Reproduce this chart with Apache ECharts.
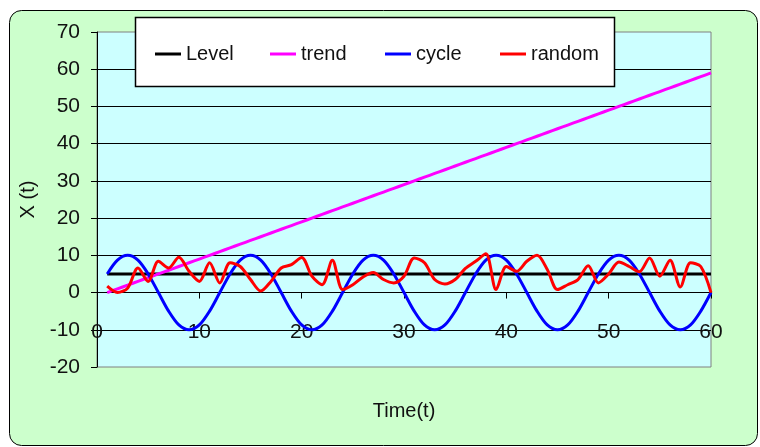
<!DOCTYPE html>
<html>
<head>
<meta charset="utf-8">
<script src="https://cdn.jsdelivr.net/npm/echarts@6/dist/echarts.min.js"></script>
<style>
html, body { margin: 0; padding: 0; background: #fff; }
#container { width: 760px; height: 447px; }
</style>
</head>
<body>
<div id="container"></div>
<script>
// 时间轴 t = 1..60
var times = [1, 2, 3, 4, 5, 6, 7, 8, 9, 10, 11, 12, 13, 14, 15, 16, 17, 18, 19, 20,
	21, 22, 23, 24, 25, 26, 27, 28, 29, 30, 31, 32, 33, 34, 35, 36, 37, 38, 39, 40,
	41, 42, 43, 44, 45, 46, 47, 48, 49, 50, 51, 52, 53, 54, 55, 56, 57, 58, 59, 60];

var level = [5, 5, 5, 5, 5, 5, 5, 5, 5, 5, 5, 5, 5, 5, 5, 5, 5, 5, 5, 5,
	5, 5, 5, 5, 5, 5, 5, 5, 5, 5, 5, 5, 5, 5, 5, 5, 5, 5, 5, 5,
	5, 5, 5, 5, 5, 5, 5, 5, 5, 5, 5, 5, 5, 5, 5, 5, 5, 5, 5, 5];

var trend = [0, 1, 2, 3, 4, 5, 6, 7, 8, 9, 10, 11, 12, 13, 14, 15, 16, 17, 18, 19,
	20, 21, 22, 23, 24, 25, 26, 27, 28, 29, 30, 31, 32, 33, 34, 35, 36, 37, 38, 39,
	40, 41, 42, 43, 44, 45, 46, 47, 48, 49, 50, 51, 52, 53, 54, 55, 56, 57, 58, 59];

var cycle = [5, 8.7, 10, 8.7, 5, 0, -5, -8.7, -10, -8.7, -5, 0,
	5, 8.7, 10, 8.7, 5, 0, -5, -8.7, -10, -8.7, -5, 0,
	5, 8.7, 10, 8.7, 5, 0, -5, -8.7, -10, -8.7, -5, 0,
	5, 8.7, 10, 8.7, 5, 0, -5, -8.7, -10, -8.7, -5, 0,
	5, 8.7, 10, 8.7, 5, 0, -5, -8.7, -10, -8.7, -5, 0];

var random = [1.7, 0, 1.2, 6.6, 3, 8.4, 6.6, 9.5, 5.7, 3, 8, 2.6, 8, 7, 3.5, 0.4, 3, 6.6, 7.5, 9.4,
	4.4, 2.1, 8.7, 0.8, 2.1, 4.2, 5.4, 3.5, 2.6, 4.4, 9.3, 8, 3.5, 2.3, 3.5, 6.5, 8.4, 10.4, 0.8, 7,
	5.7, 8.4, 10, 6.2, 0.8, 2.1, 3.5, 7.2, 2.6, 5, 8.2, 7, 5.6, 9.3, 4.4, 8.7, 1.5, 8, 7, 0];

var yTicks = [-20, -10, 0, 10, 20, 30, 40, 50, 60, 70];

var font = "'Liberation Sans', Arial, sans-serif";
var textColor = '#111';

function pairs(values) {
	return times.map(function (t, i) {
		return [t, values[i]];
	});
}

function lineSeries(name, values, color) {
	return {
		name: name,
		type: 'line',
		data: pairs(values),
		symbol: 'none',
		smooth: 0.3,
		lineStyle: { color: color, width: 3 },
		itemStyle: { color: color },
		animation: false
	};
}

var dom = document.getElementById('container');
var myChart = echarts.init(dom);

var option = {
	backgroundColor: '#fff',
	animation: false,
	textStyle: { fontFamily: font, color: textColor },
	graphic: [{
		type: 'rect',
		z: -100,
		shape: { x: 9.5, y: 10.5, width: 748, height: 435, r: 12 },
		style: { fill: '#CCFFCC', stroke: '#000', lineWidth: 1 }
	}, {
		type: 'rect',
		z: 3,
		shape: { x: 135.5, y: 17.5, width: 479, height: 69 },
		style: { fill: '#fff', stroke: '#000', lineWidth: 1.5 }
	}],
	legend: {
		left: 155,
		top: 42,
		padding: 0,
		icon: 'rect',
		itemWidth: 26,
		itemHeight: 3,
		itemGap: 0,
		z: 5,
		textStyle: { fontFamily: font, fontSize: 20, color: textColor, width: 84, lineHeight: 24 },
		data: ['Level', 'trend', 'cycle', 'random']
	},
	grid: {
		left: 97,
		right: 49,
		top: 32,
		bottom: 80,
		outerBoundsMode: 'none',
		show: true,
		backgroundColor: '#CCFFFF',
		borderColor: '#808080',
		borderWidth: 1
	},
	xAxis: {
		type: 'value',
		min: 0,
		max: 60,
		interval: 10,
		name: 'Time(t)',
		nameLocation: 'middle',
		nameGap: 34,
		nameTextStyle: { fontFamily: font, fontSize: 20, color: textColor },
		axisLine: { onZero: true, lineStyle: { color: '#000', width: 1 } },
		axisTick: { show: true, length: 6, lineStyle: { color: '#000' } },
		axisLabel: { margin: -45, fontFamily: font, fontSize: 21, color: textColor },
		splitLine: { show: false }
	},
	yAxis: {
		type: 'value',
		min: yTicks[0],
		max: yTicks[yTicks.length - 1],
		interval: 10,
		name: 'X (t)',
		nameLocation: 'middle',
		nameGap: 48,
		nameTextStyle: { fontFamily: font, fontSize: 20, color: textColor },
		axisLine: { show: true, onZero: false, lineStyle: { color: '#000', width: 1 } },
		axisTick: { show: true, length: 6, lineStyle: { color: '#000' } },
		axisLabel: { margin: 17, fontFamily: font, fontSize: 21, color: textColor },
		splitLine: { show: true, showMinLine: false, showMaxLine: false, lineStyle: { color: '#000', width: 1 } }
	},
	series: [
		lineSeries('Level', level, '#000000'),
		lineSeries('trend', trend, '#FF00FF'),
		lineSeries('cycle', cycle, '#0000FF'),
		lineSeries('random', random, '#FF0000')
	]
};

if (option && typeof option === 'object') {
	myChart.setOption(option, true);
}
</script>
</body>
</html>
